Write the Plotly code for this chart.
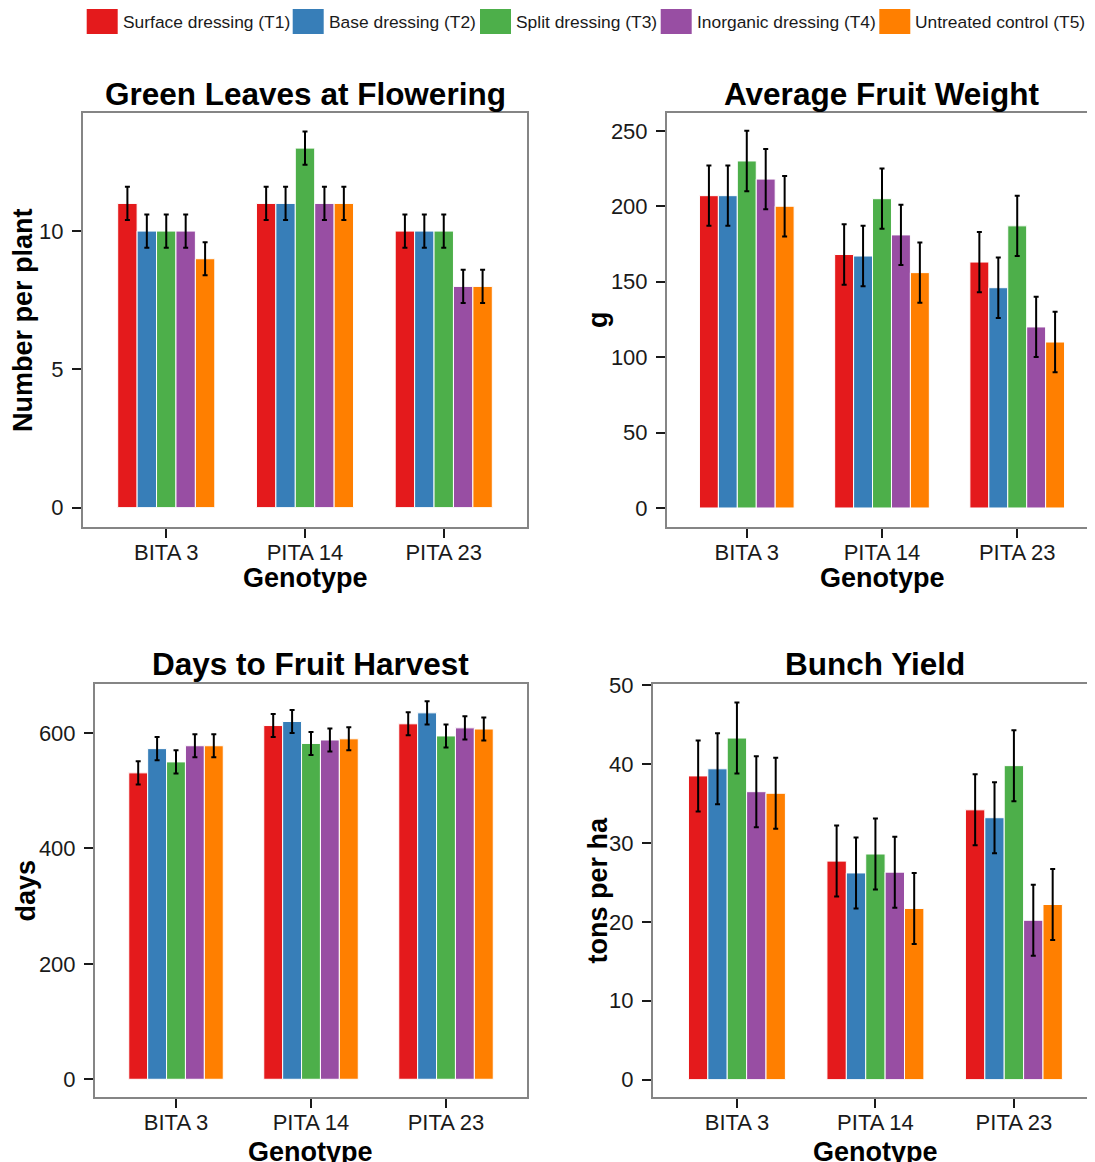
import plotly.graph_objects as go

# ---------------- data ----------------
GENOTYPES = ["BITA 3", "PITA 14", "PITA 23"]
TREATMENTS = ["Surface dressing (T1)", "Base dressing (T2)", "Split dressing (T3)",
              "Inorganic dressing (T4)", "Untreated control (T5)"]

# rows = treatments T1..T5, columns = genotypes
LEAVES = [[11, 11, 10], [10, 11, 10], [10, 13, 10], [10, 11, 8], [9, 11, 8]]
LEAVES_ERR = 0.6
FRUIT_WT = [[207, 168, 163], [207, 167, 146], [230, 205, 187], [218, 181, 120], [200, 156, 110]]
FRUIT_WT_ERR = 20
DAYS = [[531, 613, 616], [573, 620, 635], [550, 582, 595], [578, 588, 609], [578, 590, 607]]
DAYS_ERR = 20
YIELD = [[38.5, 27.7, 34.2], [39.4, 26.2, 33.2], [43.3, 28.6, 39.8], [36.5, 26.3, 20.2], [36.3, 21.7, 22.2]]
YIELD_ERR = 4.5

PANEL_TITLES = ["Green Leaves at Flowering", "Average Fruit Weight",
                "Days to Fruit Harvest", "Bunch Yield"]
Y_TITLES = ["Number per plant", "g", "days", "tons per ha"]
X_TITLE = "Genotype"
Y_TICKS = [[0, 5, 10], [0, 50, 100, 150, 200, 250], [0, 200, 400, 600], [0, 10, 20, 30, 40, 50]]

# ---------------- style / layout ----------------
COLORS = ["#E41A1C", "#377EB8", "#4DAF4A", "#984EA3", "#FF7F00"]
W, H = 1095, 1162
OFF = 8  # default page body margin
FONT = "Liberation Sans, Arial, Helvetica, sans-serif"

# pixel boxes of each panel on the page: (left, right, top, bottom)
BOXES = [(83, 527, 113, 527), (667, 1097, 113, 527), (95, 527, 684, 1097), (653, 1097, 684, 1097)]
Y_RANGES = [[-0.70, 14.27], [-12.6, 261.8], [-30.7, 685], [-2.2, 50.15]]
X_RANGES = [[-0.6, 2.6], [-0.59, 2.59], [-0.6, 2.6], [-0.606, 2.6]]
TITLE_Y = [94, 94, 664, 664]
XTITLE_Y = [578, 578, 1152, 1152]
YTITLE_X = [23, 598, 25, 597]
LEGEND_X = [86.7, 292.7, 480, 660.7, 879.3]


def px(x):
    return (x - OFF) / W


def py(y):
    return 1 - (y - OFF) / H


values = [LEAVES, FRUIT_WT, DAYS, YIELD]
errors = [LEAVES_ERR, FRUIT_WT_ERR, DAYS_ERR, YIELD_ERR]

fig = go.Figure()
for p in range(4):
    sfx = "" if p == 0 else str(p + 1)
    for s, name in enumerate(TREATMENTS):
        fig.add_trace(go.Bar(
            x=GENOTYPES, y=values[p][s], name=name,
            marker=dict(color=COLORS[s], line=dict(color="white", width=1)),
            error_y=dict(type="constant", value=errors[p], color="black", thickness=2, width=2.5),
            xaxis="x" + sfx, yaxis="y" + sfx, offsetgroup=str(s), showlegend=False,
        ))

layout = dict(
    width=W, height=H, margin=dict(l=0, r=0, t=0, b=0, autoexpand=False),
    paper_bgcolor="white", plot_bgcolor="white",
    barmode="group", bargap=0.3, bargroupgap=0,
    font=dict(family=FONT, color="#1a1a1a"),
    showlegend=False,
)
annotations = []
shapes = []
for p in range(4):
    sfx = "" if p == 0 else str(p + 1)
    l, r, t, b = BOXES[p]
    layout["xaxis" + sfx] = dict(
        domain=[px(l), min(px(r), 1.0)], anchor="y" + sfx, range=X_RANGES[p], type="category",
        showline=True, linecolor="#858585", linewidth=2, mirror=True,
        ticks="outside", ticklen=9, tickwidth=2, tickcolor="#1a1a1a",
        tickfont=dict(size=22, family=FONT, color="#1a1a1a"),
        ticklabelstandoff=-4,
        showgrid=False, zeroline=False, fixedrange=True, automargin=False,
    )
    layout["yaxis" + sfx] = dict(
        domain=[py(b), py(t)], anchor="x" + sfx, range=Y_RANGES[p], tickvals=Y_TICKS[p],
        showline=True, linecolor="#858585", linewidth=2, mirror=True,
        ticks="outside", ticklen=9, tickwidth=2, tickcolor="#1a1a1a",
        tickfont=dict(size=22, family=FONT, color="#1a1a1a"),
        ticklabelstandoff=4,
        showgrid=False, zeroline=False, fixedrange=True, automargin=False,
    )
    # panel title
    annotations.append(dict(
        text="<b>" + PANEL_TITLES[p] + "</b>", xref="paper", yref="paper",
        x=px((l + r) / 2), y=py(TITLE_Y[p]), xanchor="center", yanchor="middle",
        showarrow=False, font=dict(size=31.5, family=FONT, color="black"),
    ))
    # x axis title
    annotations.append(dict(
        text="<b>" + X_TITLE + "</b>", xref="paper", yref="paper",
        x=px((l + r) / 2), y=py(XTITLE_Y[p]), xanchor="center", yanchor="middle",
        showarrow=False, font=dict(size=27, family=FONT, color="black"),
    ))
    # y axis title
    annotations.append(dict(
        text="<b>" + Y_TITLES[p] + "</b>", xref="paper", yref="paper", textangle=-90,
        x=px(YTITLE_X[p]), y=py((t + b) / 2), xanchor="center", yanchor="middle",
        showarrow=False, font=dict(size=27, family=FONT, color="black"),
    ))

# legend drawn as squares + labels
for s, name in enumerate(TREATMENTS):
    x0 = LEGEND_X[s]
    shapes.append(dict(type="rect", xref="paper", yref="paper",
                       x0=px(x0), x1=px(x0 + 31), y0=py(34), y1=py(9),
                       fillcolor=COLORS[s], line=dict(width=0)))
    annotations.append(dict(text=name, xref="paper", yref="paper",
                            x=px(x0 + 34), y=py(21.5), xanchor="left", yanchor="middle",
                            showarrow=False, font=dict(size=17.4, family=FONT, color="#1a1a1a")))

layout["annotations"] = annotations
layout["shapes"] = shapes
fig.update_layout(**layout)
fig.write_html("out.html")
